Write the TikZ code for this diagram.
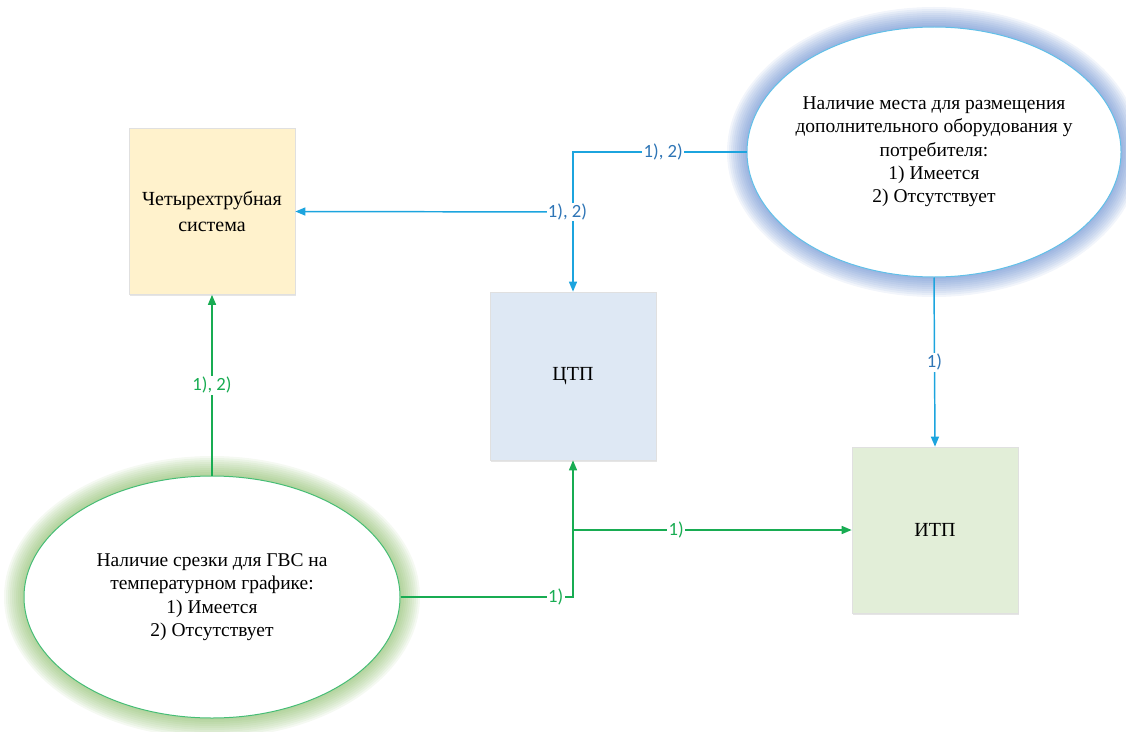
\documentclass[tikz,border=0pt]{standalone}
\usepackage{fontspec}
\setmainfont{Liberation Serif}
\newfontfamily\lblfont{Carlito}
\usetikzlibrary{arrows.meta,shapes.geometric,backgrounds,shadows}

\definecolor{lineblue}{RGB}{28,164,222}
\definecolor{textblue}{RGB}{46,117,182}
\definecolor{glowblue}{RGB}{68,114,196}
\definecolor{linegreen}{RGB}{24,172,82}
\definecolor{glowgreen}{RGB}{112,173,71}
\definecolor{fillgold}{RGB}{255,242,204}
\definecolor{fillsky}{RGB}{222,232,244}
\definecolor{fillmint}{RGB}{226,238,216}

\tikzset{every picture/.style={line width=0.75pt}}
\tikzset{
  boxnode/.style={draw=black!12, line width=0.5pt, minimum width=124.5pt, minimum height=124.5pt,
    align=center, font=\rmfamily\fontsize{15}{19}\selectfont,
    drop shadow={fill=black, opacity=0.10, shadow xshift=1pt, shadow yshift=-1.2pt}},
  ovalnode/.style={ellipse, fill=white, inner ysep=0pt, inner xsep=-15pt, align=center,
    font=\rmfamily\fontsize{14.6}{17.5}\selectfont},
  bluelink/.style={draw=lineblue, line width=1.1pt, -{Triangle[length=7.5pt,width=6pt]}},
  greenlink/.style={draw=linegreen, line width=1.1pt, -{Triangle[length=7.5pt,width=6pt]}},
  bluelbl/.style={fill=white, inner sep=1pt, text=textblue, font=\lblfont\fontsize{14}{16}\selectfont},
  greenlbl/.style={fill=white, inner sep=1pt, text=linegreen, font=\lblfont\fontsize{14}{16}\selectfont},
}

\begin{document}
\begin{tikzpicture}[x=0.75pt,y=0.75pt,yscale=-1,xscale=1]
\useasboundingbox (0,0) rectangle (1126,731);

%Shapes
\node [boxnode, fill=fillgold] (four) at (212,211.5) {Четырехтрубная\\система};
\node [boxnode, fill=fillsky, minimum height=126pt] (ctp) at (573,376) {ЦТП};
\node [boxnode, fill=fillmint] (itp) at (935,530) {ИТП};

% Text Node
\node [ovalnode, draw=lineblue!70, minimum width=280.5pt, minimum height=187.5pt] (mesto) at (934,152)
  {Наличие места для размещения\\дополнительного оборудования у\\потребителя:\\1) Имеется\\2) Отсутствует};
% Text Node
\node [ovalnode, draw=linegreen!80, minimum width=282pt, minimum height=181.5pt] (srezka) at (212,597)
  {Наличие срезки для ГВС на\\температурном графике:\\1) Имеется\\2) Отсутствует};

%Glow
\begin{scope}[on background layer]
\foreach \g in {20,18,...,2} {
  \fill [glowblue, opacity=0.07] (mesto.center) ellipse [x radius=187+\g, y radius=125+\g];
  \fill [glowgreen, opacity=0.07] (srezka.center) ellipse [x radius=188+\g, y radius=121+\g];
}
\end{scope}

\coordinate (bturn) at (573,152);
\coordinate (bfork) at (573,212);
\coordinate (gturn) at (573,597);
\coordinate (gfork) at (573,530);

%Straight Lines
\draw [bluelink] (mesto.west) -- node [bluelbl, pos=0.48] {1), 2)} (bturn) -- (ctp.north);
\draw [bluelink] (bfork) -- node [bluelbl, pos=0.02] {1), 2)} (four.east);
\draw [bluelink] (mesto.south) -- node [bluelbl] {1)} (itp.north);
%Straight Lines
\draw [greenlink] (srezka.north) -- node [greenlbl] {1), 2)} (four.south);
\draw [greenlink] (srezka.east) -- node [greenlbl, pos=0.9] {1)} (gturn) -- (ctp.south);
\draw [greenlink] (gfork) -- node [greenlbl, pos=0.37] {1)} (itp.west);

\end{tikzpicture}
\end{document}
